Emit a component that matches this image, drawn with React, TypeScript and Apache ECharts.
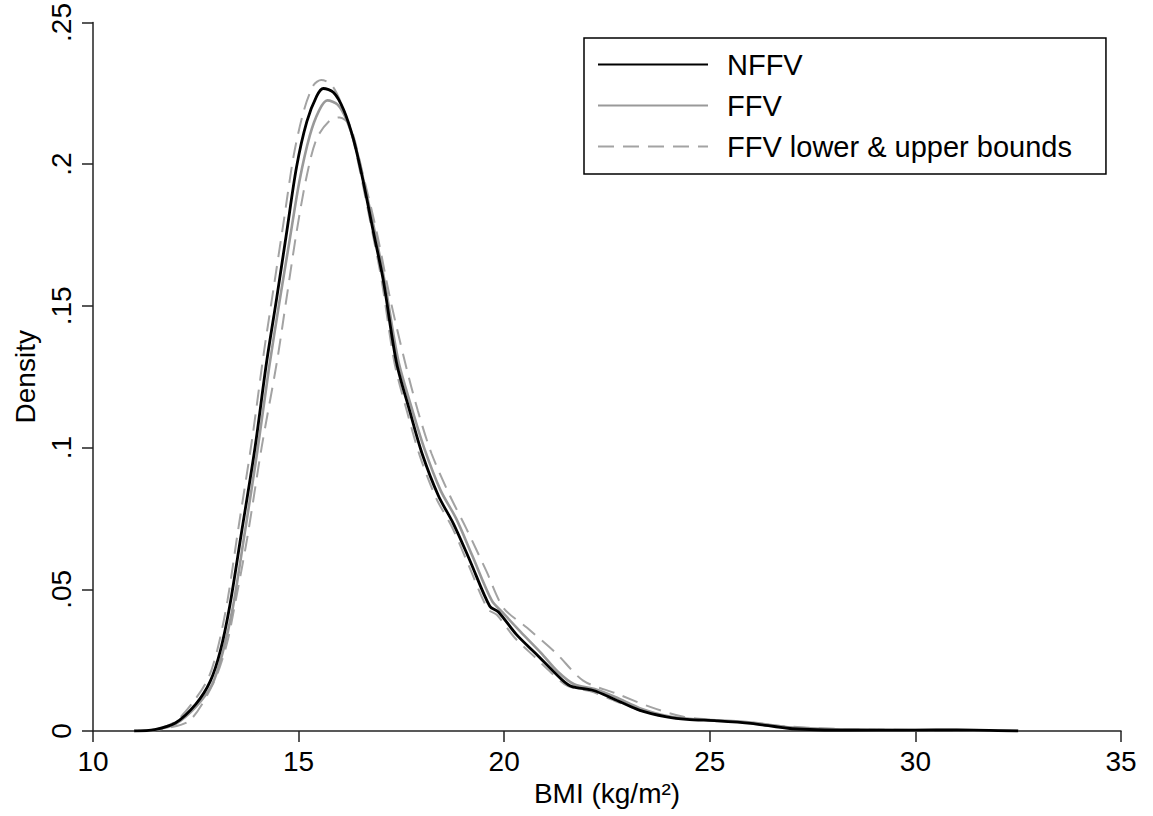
import React, { useEffect, useRef } from "react";
import * as echarts from "echarts";

// NFFV density curve
const nffvX = [11.0, 11.5, 12.0, 12.5, 12.85, 13.1, 13.33, 13.6, 13.94, 14.22, 14.47, 14.71, 14.95, 15.2, 15.44, 15.6, 15.85, 16.09, 16.33, 16.57, 16.82, 17.06, 17.38, 17.7, 18.0, 18.4, 18.77, 19.17, 19.65, 19.86, 20.3, 20.79, 21.2, 21.6, 22.17, 22.65, 23.3, 23.95, 24.44, 25.17, 26.0, 27.0, 28.4, 30.0, 31.0, 32.5];
const nffvY = [0, 0.0005, 0.0028, 0.0095, 0.0175, 0.0285, 0.0445, 0.069, 0.10, 0.13, 0.153, 0.176, 0.199, 0.215, 0.224, 0.2267, 0.2253, 0.2194, 0.209, 0.194, 0.176, 0.159, 0.13, 0.113, 0.098, 0.083, 0.073, 0.060, 0.044, 0.042, 0.034, 0.027, 0.021, 0.016, 0.0143, 0.0114, 0.0073, 0.005, 0.0041, 0.0036, 0.0027, 0.0008, 0.0003, 0.0003, 0.0004, 0];

// FFV density curve
const ffvX = [11.1, 11.5, 12.0, 12.5, 12.9, 13.15, 13.4, 13.67, 14.0, 14.28, 14.53, 14.78, 15.02, 15.27, 15.5, 15.7, 15.95, 16.17, 16.4, 16.63, 16.87, 17.1, 17.42, 17.75, 18.05, 18.45, 18.83, 19.22, 19.7, 19.95, 20.4, 20.9, 21.3, 21.7, 22.2, 22.7, 23.35, 24.0, 24.5, 25.2, 26.0, 27.0, 28.4, 30.0, 31.0, 32.5];
const ffvY = [0, 0.0004, 0.0024, 0.0085, 0.0165, 0.0275, 0.0435, 0.068, 0.099, 0.128, 0.151, 0.173, 0.194, 0.210, 0.219, 0.2225, 0.221, 0.2155, 0.2055, 0.191, 0.175, 0.158, 0.131, 0.114, 0.100, 0.085, 0.075, 0.062, 0.046, 0.042, 0.035, 0.0275, 0.021, 0.0165, 0.0148, 0.012, 0.0078, 0.0052, 0.0043, 0.0038, 0.003, 0.0012, 0.0005, 0.0003, 0.0003, 0];

// FFV bound curve (left-shifted, higher peak)
const boundAX = [11.0, 11.5, 12.0, 12.45, 12.8, 13.03, 13.27, 13.53, 13.87, 14.15, 14.4, 14.64, 14.88, 15.13, 15.37, 15.55, 15.8, 16.05, 16.3, 16.53, 16.78, 17.02, 17.33, 17.65, 17.95, 18.35, 18.73, 19.12, 19.6, 19.82, 20.25, 20.75, 21.15, 21.55, 22.1, 22.6, 23.25, 23.9, 24.4, 25.2, 26.0, 27.0, 28.0, 30.0, 32.0];
const boundAY = [0, 0.0006, 0.0033, 0.0105, 0.0185, 0.029, 0.046, 0.071, 0.103, 0.133, 0.157, 0.180, 0.203, 0.219, 0.228, 0.2297, 0.228, 0.221, 0.210, 0.195, 0.177, 0.159, 0.130, 0.112, 0.097, 0.082, 0.072, 0.059, 0.043, 0.041, 0.033, 0.026, 0.0205, 0.0158, 0.014, 0.0112, 0.0075, 0.0052, 0.0043, 0.0037, 0.003, 0.0012, 0.0006, 0.0003, 0];

// FFV bound curve (right-shifted, lower peak)
const boundBX = [11.3, 11.8, 12.36, 12.93, 13.25, 13.45, 13.75, 14.1, 14.47, 14.71, 14.95, 15.2, 15.44, 15.76, 16.0, 16.25, 16.57, 16.9, 17.22, 17.59, 17.9, 18.23, 18.68, 19.08, 19.57, 19.98, 20.55, 21.28, 21.92, 22.73, 23.55, 24.36, 25.17, 26.8, 28.0, 30.0, 32.0];
const boundBY = [0, 0.001, 0.0038, 0.0170, 0.0305, 0.0445, 0.068, 0.100, 0.130, 0.153, 0.176, 0.196, 0.209, 0.2154, 0.2165, 0.2136, 0.196, 0.176, 0.153, 0.130, 0.113, 0.098, 0.083, 0.0714, 0.0563, 0.0435, 0.0365, 0.0272, 0.0178, 0.0132, 0.0085, 0.005, 0.0038, 0.0017, 0.0008, 0.0003, 0];

const xTicks = { min: 10, max: 35, interval: 5 };
const yTicks = { min: 0, max: 0.25, interval: 0.05 };

const seriesNames = ["NFFV", "FFV", "FFV lower & upper bounds"];

const zip = (xs: number[], ys: number[]) => xs.map((x, i) => [x, ys[i]]);

const FONT = "'Liberation Sans', Arial, Helvetica, sans-serif";

export default function App() {
  const ref = useRef<HTMLDivElement>(null);

  useEffect(() => {
    if (!ref.current) return;
    const chart = echarts.init(ref.current, undefined, { renderer: "svg" });
    const dashed = {
      color: "#a3a3a3",
      width: 2,
      type: [16, 9] as any,
    };
    const SM = 0.3;
    chart.setOption({
      animation: false,
      backgroundColor: "#fff",
      textStyle: { fontFamily: FONT },
      grid: { left: 93, right: 32, top: 16, bottom: 85 },
      legend: {
        data: seriesNames,
        orient: "vertical",
        left: 584,
        top: 38,
        padding: [12, 34, 13, 13],
        itemGap: 12,
        itemWidth: 110,
        itemHeight: 29,
        borderColor: "#000",
        borderWidth: 1.5,
        borderRadius: 0,
        selectedMode: false,
        itemStyle: { opacity: 0 },
        textStyle: {
          fontFamily: FONT,
          fontSize: 29,
          color: "#000",
          padding: [0, 0, 0, 14],
        },
      },
      xAxis: {
        type: "value",
        min: xTicks.min,
        max: xTicks.max,
        interval: xTicks.interval,
        name: "BMI (kg/m²)",
        nameLocation: "middle",
        nameGap: 47,
        nameTextStyle: { fontFamily: FONT, fontSize: 28, color: "#000" },
        axisLine: { show: true, lineStyle: { color: "#222", width: 1.5 } },
        axisTick: { show: true, length: 11, lineStyle: { color: "#222", width: 1.5 } },
        axisLabel: { fontFamily: FONT, fontSize: 28, color: "#000", margin: 16 },
        splitLine: { show: false },
      },
      yAxis: {
        type: "value",
        min: yTicks.min,
        max: yTicks.max,
        interval: yTicks.interval,
        name: "Density",
        nameLocation: "middle",
        nameRotate: 90,
        nameGap: 44,
        nameTextStyle: { fontFamily: FONT, fontSize: 28, color: "#000" },
        axisLine: { show: true, lineStyle: { color: "#222", width: 1.5 } },
        axisTick: { show: true, length: 11, lineStyle: { color: "#222", width: 1.5 } },
        axisLabel: {
          fontFamily: FONT,
          fontSize: 28,
          color: "#000",
          rotate: 90,
          margin: 18,
          formatter: (v: number) => {
            if (v === 0) return "0";
            return String(Number(v.toFixed(2))).replace(/^0/, "");
          },
        },
        splitLine: { show: false },
      },
      series: [
        {
          name: seriesNames[2],
          type: "line",
          data: zip(boundAX, boundAY),
          symbol: "none",
          smooth: SM,
          lineStyle: dashed,
          itemStyle: { color: "#a3a3a3" },
        },
        {
          name: seriesNames[2],
          type: "line",
          data: zip(boundBX, boundBY),
          symbol: "none",
          smooth: SM,
          lineStyle: dashed,
          itemStyle: { color: "#a3a3a3" },
        },
        {
          name: seriesNames[1],
          type: "line",
          data: zip(ffvX, ffvY),
          symbol: "none",
          smooth: SM,
          lineStyle: { color: "#999", width: 2.6 },
          itemStyle: { color: "#999" },
        },
        {
          name: seriesNames[0],
          type: "line",
          data: zip(nffvX, nffvY),
          symbol: "none",
          smooth: SM,
          lineStyle: { color: "#000", width: 2.8 },
          itemStyle: { color: "#000" },
        },
      ],
    });
    return () => chart.dispose();
  }, []);

  return (
    <div
      ref={ref}
      style={{ position: "absolute", left: 0, top: 0, width: 1153, height: 816, background: "#fff" }}
    />
  );
}
